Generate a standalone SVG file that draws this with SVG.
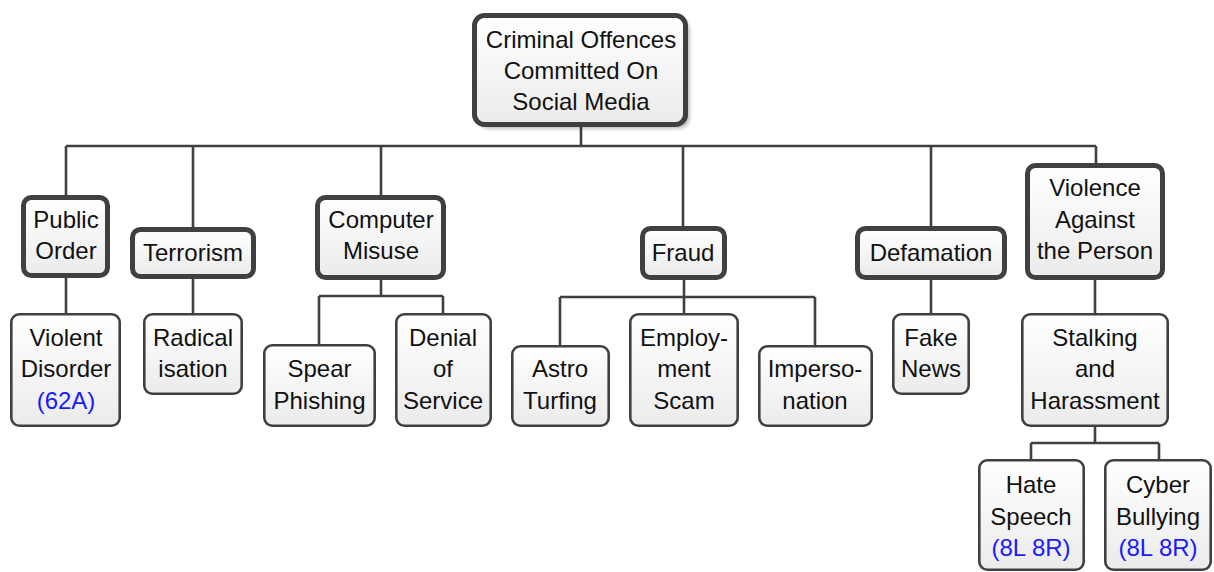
<svg xmlns="http://www.w3.org/2000/svg" width="1214" height="572" viewBox="0 0 1214 572">
<defs>
<linearGradient id="g" x1="0" y1="0" x2="0" y2="1">
<stop offset="0" stop-color="#ffffff"/>
<stop offset="1" stop-color="#ebebeb"/>
</linearGradient>
<filter id="sh" x="-10%" y="-10%" width="130%" height="130%">
<feGaussianBlur stdDeviation="2"/>
</filter>
</defs>
<style>
text{font-family:"Liberation Sans",Arial,sans-serif;font-size:24px;fill:#111;text-anchor:middle;dominant-baseline:central}
.ref{fill:#1a1aff}
.b0{fill:url(#g);stroke:#404040;stroke-width:5}
.b1{fill:url(#g);stroke:#404040;stroke-width:5}
.b2{fill:url(#g);stroke:#404040;stroke-width:2.6}
.c{fill:none;stroke:#404040;stroke-width:2.6}
</style>
<rect width="1214" height="572" fill="#ffffff"/>
<g id="connectors">
<path class="c" d="M581 127V146M66 146H1096M66 146V196M193 146V227M381 146V195M683 146V226M931 146V226M1096 146V163"/>
<path class="c" d="M66 278V313M193 279V313"/>
<path class="c" d="M381 280V296M319 296H443M319 296V344M443 296V313"/>
<path class="c" d="M684 280V297M560 297H815M560 297V345M684 297V313M815 297V345"/>
<path class="c" d="M931 280V313M1095 280V313"/>
<path class="c" d="M1095 427V443M1031 443H1159M1031 443V459M1159 443V459"/>
</g>
<g id="root">
<rect x="478" y="19" width="211" height="109" rx="10" fill="#000" opacity="0.35" filter="url(#sh)"/>
<rect class="b0" x="474.5" y="15.5" width="211" height="109" rx="10"/>
<text x="581" y="39">Criminal Offences</text>
<text x="581" y="70">Committed On</text>
<text x="581" y="101">Social Media</text>
</g>
<g id="public-order">
<rect class="b1" x="23.5" y="197.5" width="84" height="78" rx="8"/>
<text x="66" y="219">Public</text>
<text x="66" y="250">Order</text>
</g>
<g id="terrorism">
<rect class="b1" x="132.5" y="229.5" width="121" height="47" rx="8"/>
<text x="193" y="252">Terrorism</text>
</g>
<g id="computer-misuse">
<rect class="b1" x="317.5" y="197.5" width="126" height="80" rx="8"/>
<text x="381" y="219">Computer</text>
<text x="381" y="250">Misuse</text>
</g>
<g id="fraud">
<rect class="b1" x="642.5" y="228.5" width="82" height="49" rx="8"/>
<text x="683" y="252">Fraud</text>
</g>
<g id="defamation">
<rect class="b1" x="857.5" y="228.5" width="147" height="49" rx="8"/>
<text x="931" y="252">Defamation</text>
</g>
<g id="violence">
<rect class="b1" x="1027.5" y="165.5" width="135" height="112" rx="8"/>
<text x="1095" y="187">Violence</text>
<text x="1095" y="219">Against</text>
<text x="1095" y="250">the Person</text>
</g>
<g id="violent-disorder">
<rect class="b2" x="11.3" y="314.3" width="108.4" height="111.4" rx="8"/>
<text x="66" y="337">Violent</text>
<text x="66" y="368">Disorder</text>
<text class="ref" x="66" y="400">(62A)</text>
</g>
<g id="radicalisation">
<rect class="b2" x="144.3" y="314.3" width="97.4" height="79.4" rx="8"/>
<text x="193" y="337">Radical</text>
<text x="193" y="368">isation</text>
</g>
<g id="spear-phishing">
<rect class="b2" x="264.3" y="345.3" width="110.4" height="80.4" rx="8"/>
<text x="319.5" y="368">Spear</text>
<text x="319.5" y="400">Phishing</text>
</g>
<g id="denial-of-service">
<rect class="b2" x="396.3" y="314.3" width="94.4" height="111.4" rx="8"/>
<text x="443" y="337">Denial</text>
<text x="443" y="368">of</text>
<text x="443" y="400">Service</text>
</g>
<g id="astro-turfing">
<rect class="b2" x="512.3" y="346.3" width="96.4" height="79.4" rx="8"/>
<text x="560" y="368">Astro</text>
<text x="560" y="400">Turfing</text>
</g>
<g id="employment-scam">
<rect class="b2" x="630.3" y="314.3" width="107.4" height="111.4" rx="8"/>
<text x="684" y="337">Employ-</text>
<text x="684" y="368">ment</text>
<text x="684" y="400">Scam</text>
</g>
<g id="impersonation">
<rect class="b2" x="759.3" y="346.3" width="112.4" height="79.4" rx="8"/>
<text x="815" y="368">Imperso-</text>
<text x="815" y="400">nation</text>
</g>
<g id="fake-news">
<rect class="b2" x="893.3" y="314.3" width="75.4" height="79.4" rx="8"/>
<text x="931" y="337">Fake</text>
<text x="931" y="368">News</text>
</g>
<g id="stalking">
<rect class="b2" x="1022.3" y="314.3" width="145.4" height="111.4" rx="8"/>
<text x="1095" y="337">Stalking</text>
<text x="1095" y="368">and</text>
<text x="1095" y="400">Harassment</text>
</g>
<g id="hate-speech">
<rect class="b2" x="979.3" y="460.3" width="104.4" height="109.4" rx="8"/>
<text x="1031" y="484">Hate</text>
<text x="1031" y="516">Speech</text>
<text class="ref" x="1031" y="547">(8L 8R)</text>
</g>
<g id="cyber-bullying">
<rect class="b2" x="1105.3" y="460.3" width="105.4" height="109.4" rx="8"/>
<text x="1158" y="484">Cyber</text>
<text x="1158" y="516">Bullying</text>
<text class="ref" x="1158" y="547">(8L 8R)</text>
</g>
</svg>
